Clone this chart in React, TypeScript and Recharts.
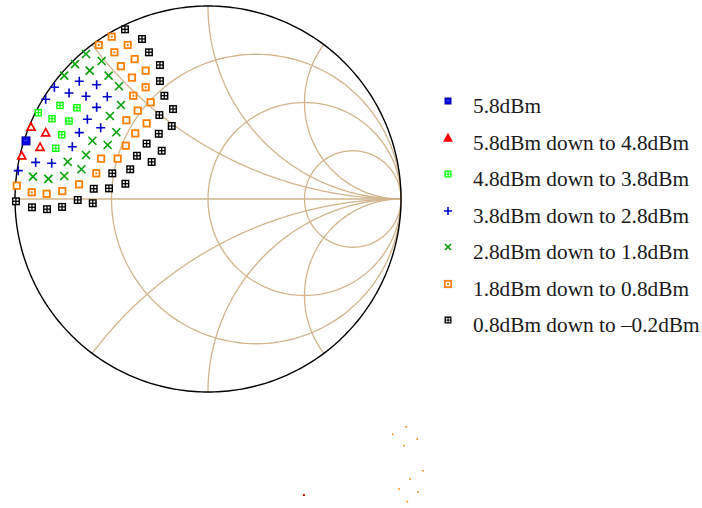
import React from 'react';
import { ScatterChart, Scatter, XAxis, YAxis, Legend } from 'recharts';

// load-pull points, reflection coefficient [Re, Im]
const pts58: [number, number][] = [[-0.943, 0.301]];

const pts48: [number, number][] = [
  [-0.917, 0.373], [-0.841, 0.344], [-0.87, 0.269], [-0.965, 0.224],
];

const pts38: [number, number][] = [
  [-0.879, 0.447], [-0.767, 0.485], [-0.679, 0.473], [-0.808, 0.416],
  [-0.72, 0.404], [-0.758, 0.333], [-0.789, 0.263],
];

const pts28: [number, number][] = [
  [-0.667, 0.61], [-0.796, 0.579], [-0.577, 0.592], [-0.72, 0.549],
  [-0.632, 0.532], [-0.841, 0.517], [-0.522, 0.53], [-0.577, 0.475],
  [-0.625, 0.413], [-0.556, 0.369], [-0.667, 0.344], [-0.703, 0.271],
  [-0.893, 0.19], [-0.81, 0.185], [-0.983, 0.147],
];

const pts18: [number, number][] = [
  [-0.632, 0.751], [-0.689, 0.699], [-0.551, 0.715], [-0.745, 0.639],
  [-0.613, 0.665], [-0.515, 0.639], [-0.461, 0.584], [-0.451, 0.487],
  [-0.508, 0.43], [-0.475, 0.346], [-0.599, 0.302], [-0.52, 0.28],
  [-0.632, 0.228], [-0.727, 0.193], [-0.656, 0.154], [-0.907, 0.116],
  [-0.827, 0.104], [-0.745, 0.119],
];

const pts08: [number, number][] = [
  [-0.499, 0.841], [-0.566, 0.798], [-0.416, 0.798], [-0.485, 0.76],
  [-0.38, 0.725], [-0.451, 0.688], [-0.323, 0.665], [-0.394, 0.629],
  [-0.323, 0.579], [-0.387, 0.535], [-0.297, 0.501], [-0.364, 0.458],
  [-0.423, 0.408], [-0.318, 0.392], [-0.377, 0.34], [-0.426, 0.276],
  [-0.554, 0.209], [-0.468, 0.209], [-0.579, 0.133], [-0.668, 0.076],
  [-0.755, 0.041], [-0.836, 0.027], [-0.913, 0.035], [-0.991, 0.069],
];
const pts08Dotted = [0, 1, 2, 3, 8, 9, 18, 22];

const ptsM02: [number, number][] = [
  [-0.43, 0.879], [-0.342, 0.829], [-0.306, 0.76], [-0.249, 0.694],
  [-0.249, 0.611], [-0.226, 0.535], [-0.181, 0.466], [-0.252, 0.435],
  [-0.188, 0.378], [-0.255, 0.338], [-0.318, 0.287], [-0.24, 0.25],
  [-0.368, 0.224], [-0.292, 0.192], [-0.403, 0.154], [-0.496, 0.133],
  [-0.428, 0.079], [-0.513, 0.055], [-0.592, 0.053], [-0.675, -0.005],
  [-0.597, -0.022], [-0.756, -0.041], [-0.834, -0.053], [-0.912, -0.043],
  [-0.995, -0.012],
];

// stray specks below the chart
const strayOrange: [number, number][] = [
  [1.027, -1.18], [0.957, -1.219], [1.084, -1.244], [1.016, -1.278],
  [1.114, -1.408], [1.047, -1.451], [0.99, -1.503], [1.088, -1.518],
  [1.033, -1.568],
];
const strayRed: [number, number][] = [[0.497, -1.534]];

const legendLabels = [
  '5.8dBm',
  '5.8dBm down to 4.8dBm',
  '4.8dBm down to 3.8dBm',
  '3.8dBm down to 2.8dBm',
  '2.8dBm down to 1.8dBm',
  '1.8dBm down to 0.8dBm',
  '0.8dBm down to \u20130.2dBm',
];

// smith grid values
const rValues = [1 / 3, 1, 3];
const xValues = [0.5, 1, 2];

const W = 702;
const H = 508;
const CX = 208;
const CY = 199;
const R = 193;
const GRID = '#d2b48c';

const toData = (arr: [number, number][]) => arr.map(([x, y]) => ({ x, y }));

function arc(cx: number, cy: number, r: number, a0: number, a1: number, n = 160) {
  const out: { x: number; y: number }[] = [];
  for (let i = 0; i <= n; i++) {
    const a = a0 + ((a1 - a0) * i) / n;
    out.push({ x: cx + r * Math.cos(a), y: cy + r * Math.sin(a) });
  }
  return out;
}

const gridCurves: { x: number; y: number }[][] = [];
rValues.forEach(r => gridCurves.push(arc(r / (r + 1), 0, 1 / (r + 1), 0, Math.PI * 2)));
xValues.forEach(xv => {
  const gx = (xv * xv - 1) / (xv * xv + 1);
  const gy = (2 * xv) / (xv * xv + 1);
  let a0 = Math.atan2(gy - 1 / xv, gx - 1);
  if (a0 < 0) a0 += Math.PI * 2;
  const up = arc(1, 1 / xv, 1 / xv, a0, Math.PI * 1.5);
  gridCurves.push(up);
  gridCurves.push(up.map(p => ({ x: p.x, y: -p.y })));
});
gridCurves.push([{ x: -1, y: 0 }, { x: 1, y: 0 }]);
const outer = arc(0, 0, 1, 0, Math.PI * 2, 360);

const none = () => <g />;

type M = { cx: number; cy: number; s?: number };

function BlueSq({ cx, cy, s = 8 }: M) {
  const h = s / 2;
  return (
    <g>
      <rect x={cx - h} y={cy - h} width={s} height={s} fill="#0a0ae6" stroke="#0000a0" strokeWidth={1} />
      <rect x={cx - 1.5} y={cy - 1} width={1} height={1} fill="#6a6aff" />
      <rect x={cx + 0.5} y={cy - 1} width={1} height={1} fill="#6a6aff" />
    </g>
  );
}

function Tri({ cx, cy, s = 8, solid }: M & { solid?: boolean }) {
  const h = s / 2;
  return (
    <polygon
      points={`${cx},${cy - h} ${cx - h},${cy + h * 0.8} ${cx + h},${cy + h * 0.8}`}
      fill={solid ? '#ff0000' : '#fff'}
      stroke="#ff0000"
      strokeWidth={1.7}
    />
  );
}

function GridSq({ cx, cy, s = 8, color }: M & { color: string }) {
  const h = s / 2;
  const c = s * 0.24;
  return (
    <g>
      <rect x={cx - h} y={cy - h} width={s} height={s} fill={color} />
      <rect x={cx - h + 1.4} y={cy - h + 1.4} width={c} height={c} fill="#fff" />
      <rect x={cx + 0.6} y={cy - h + 1.4} width={c} height={c} fill="#fff" />
      <rect x={cx - h + 1.4} y={cy + 0.6} width={c} height={c} fill="#fff" />
      <rect x={cx + 0.6} y={cy + 0.6} width={c} height={c} fill="#fff" />
    </g>
  );
}

function Plus({ cx, cy, s = 9 }: M) {
  const h = s / 2;
  return (
    <path d={`M${cx - h},${cy}H${cx + h}M${cx},${cy - h}V${cy + h}`} stroke="#0000c8" strokeWidth={1.6} />
  );
}

function Cross({ cx, cy, s = 8 }: M) {
  const h = s / 2;
  return (
    <path
      d={`M${cx - h},${cy - h}L${cx + h},${cy + h}M${cx - h},${cy + h}L${cx + h},${cy - h}`}
      stroke="#00a000"
      strokeWidth={1.6}
    />
  );
}

function OrangeSq({ cx, cy, s = 8, dot }: M & { dot?: boolean }) {
  const h = s / 2 - 0.8;
  return (
    <g>
      <rect x={cx - h} y={cy - h} width={h * 2} height={h * 2} fill="#fff" stroke="#ff8000" strokeWidth={1.8} />
      {dot && <rect x={cx - 1} y={cy - 1} width={2} height={2} fill="#ff8000" />}
    </g>
  );
}

const legendMarkers = [
  (cx: number, cy: number) => <BlueSq cx={cx} cy={cy} s={6} />,
  (cx: number, cy: number) => <Tri cx={cx} cy={cy} s={7} solid />,
  (cx: number, cy: number) => <GridSq cx={cx} cy={cy} s={7} color="#00ff00" />,
  (cx: number, cy: number) => <Plus cx={cx} cy={cy} s={8} />,
  (cx: number, cy: number) => <Cross cx={cx} cy={cy} s={6} />,
  (cx: number, cy: number) => <OrangeSq cx={cx} cy={cy} s={8} dot />,
  (cx: number, cy: number) => <GridSq cx={cx} cy={cy} s={7} color="#000" />,
];

function LoadPullLegend() {
  return (
    <div style={{ fontFamily: '"Liberation Serif", "Times New Roman", serif', fontSize: 21.3, color: '#1a1a1a' }}>
      {legendLabels.map((label, i) => (
        <div key={label} style={{ position: 'relative', height: 36.5, lineHeight: '36.5px', paddingLeft: 33, whiteSpace: 'nowrap' }}>
          <svg width={16} height={16} style={{ position: 'absolute', left: 0, top: 5 }}>
            {legendMarkers[i](8, 8)}
          </svg>
          {label}
        </div>
      ))}
    </div>
  );
}

export default function App() {
  const orangeData = pts08.map(([x, y], i) => ({ x, y, dot: pts08Dotted.includes(i) }));
  return (
    <div style={{ position: 'absolute', left: 0, top: 0, width: W, height: H, background: '#fff' }}>
      <ScatterChart width={W} height={H} margin={{ top: 0, right: 0, bottom: 0, left: 0 }}>
        <XAxis type="number" dataKey="x" hide allowDataOverflow domain={[-CX / R, (W - CX) / R]} />
        <YAxis type="number" dataKey="y" hide allowDataOverflow domain={[(CY - H) / R, CY / R]} />
        {gridCurves.map((c, i) => (
          <Scatter
            key={`g${i}`}
            data={c}
            line={{ stroke: GRID, strokeWidth: 1.3 }}
            lineType="joint"
            shape={none}
            fill={GRID}
            isAnimationActive={false}
            legendType="none"
          />
        ))}
        <Scatter data={outer} line={{ stroke: '#000', strokeWidth: 1.4 }} lineType="joint" shape={none} fill="#000" isAnimationActive={false} legendType="none" />

        <Scatter data={toData(ptsM02)} shape={(p: any) => <GridSq cx={p.cx} cy={p.cy} color="#000" />} isAnimationActive={false} />
        <Scatter data={orangeData} shape={(p: any) => <OrangeSq cx={p.cx} cy={p.cy} dot={p.payload?.dot} />} isAnimationActive={false} />
        <Scatter data={toData(pts18)} shape={(p: any) => <Cross cx={p.cx} cy={p.cy} />} isAnimationActive={false} />
        <Scatter data={toData(pts28)} shape={(p: any) => <Plus cx={p.cx} cy={p.cy} />} isAnimationActive={false} />
        <Scatter data={toData(pts38)} shape={(p: any) => <GridSq cx={p.cx} cy={p.cy} s={7.5} color="#00ff00" />} isAnimationActive={false} />
        <Scatter data={toData(pts48)} shape={(p: any) => <Tri cx={p.cx} cy={p.cy} />} isAnimationActive={false} />
        <Scatter data={toData(pts58)} shape={(p: any) => <BlueSq cx={p.cx} cy={p.cy} />} isAnimationActive={false} />

        <Scatter data={toData(strayOrange)} shape={(p: any) => <rect x={p.cx - 0.8} y={p.cy - 0.8} width={1.6} height={1.6} fill="#ff8000" />} isAnimationActive={false} />
        <Scatter data={toData(strayRed)} shape={(p: any) => <rect x={p.cx - 1} y={p.cy - 1} width={2} height={2} fill="#e00000" />} isAnimationActive={false} />

        <Legend
          layout="vertical"
          align="center"
          verticalAlign="middle"
          wrapperStyle={{ left: 440, top: 88, width: 262 }}
          content={() => <LoadPullLegend />}
        />
      </ScatterChart>
    </div>
  );
}
